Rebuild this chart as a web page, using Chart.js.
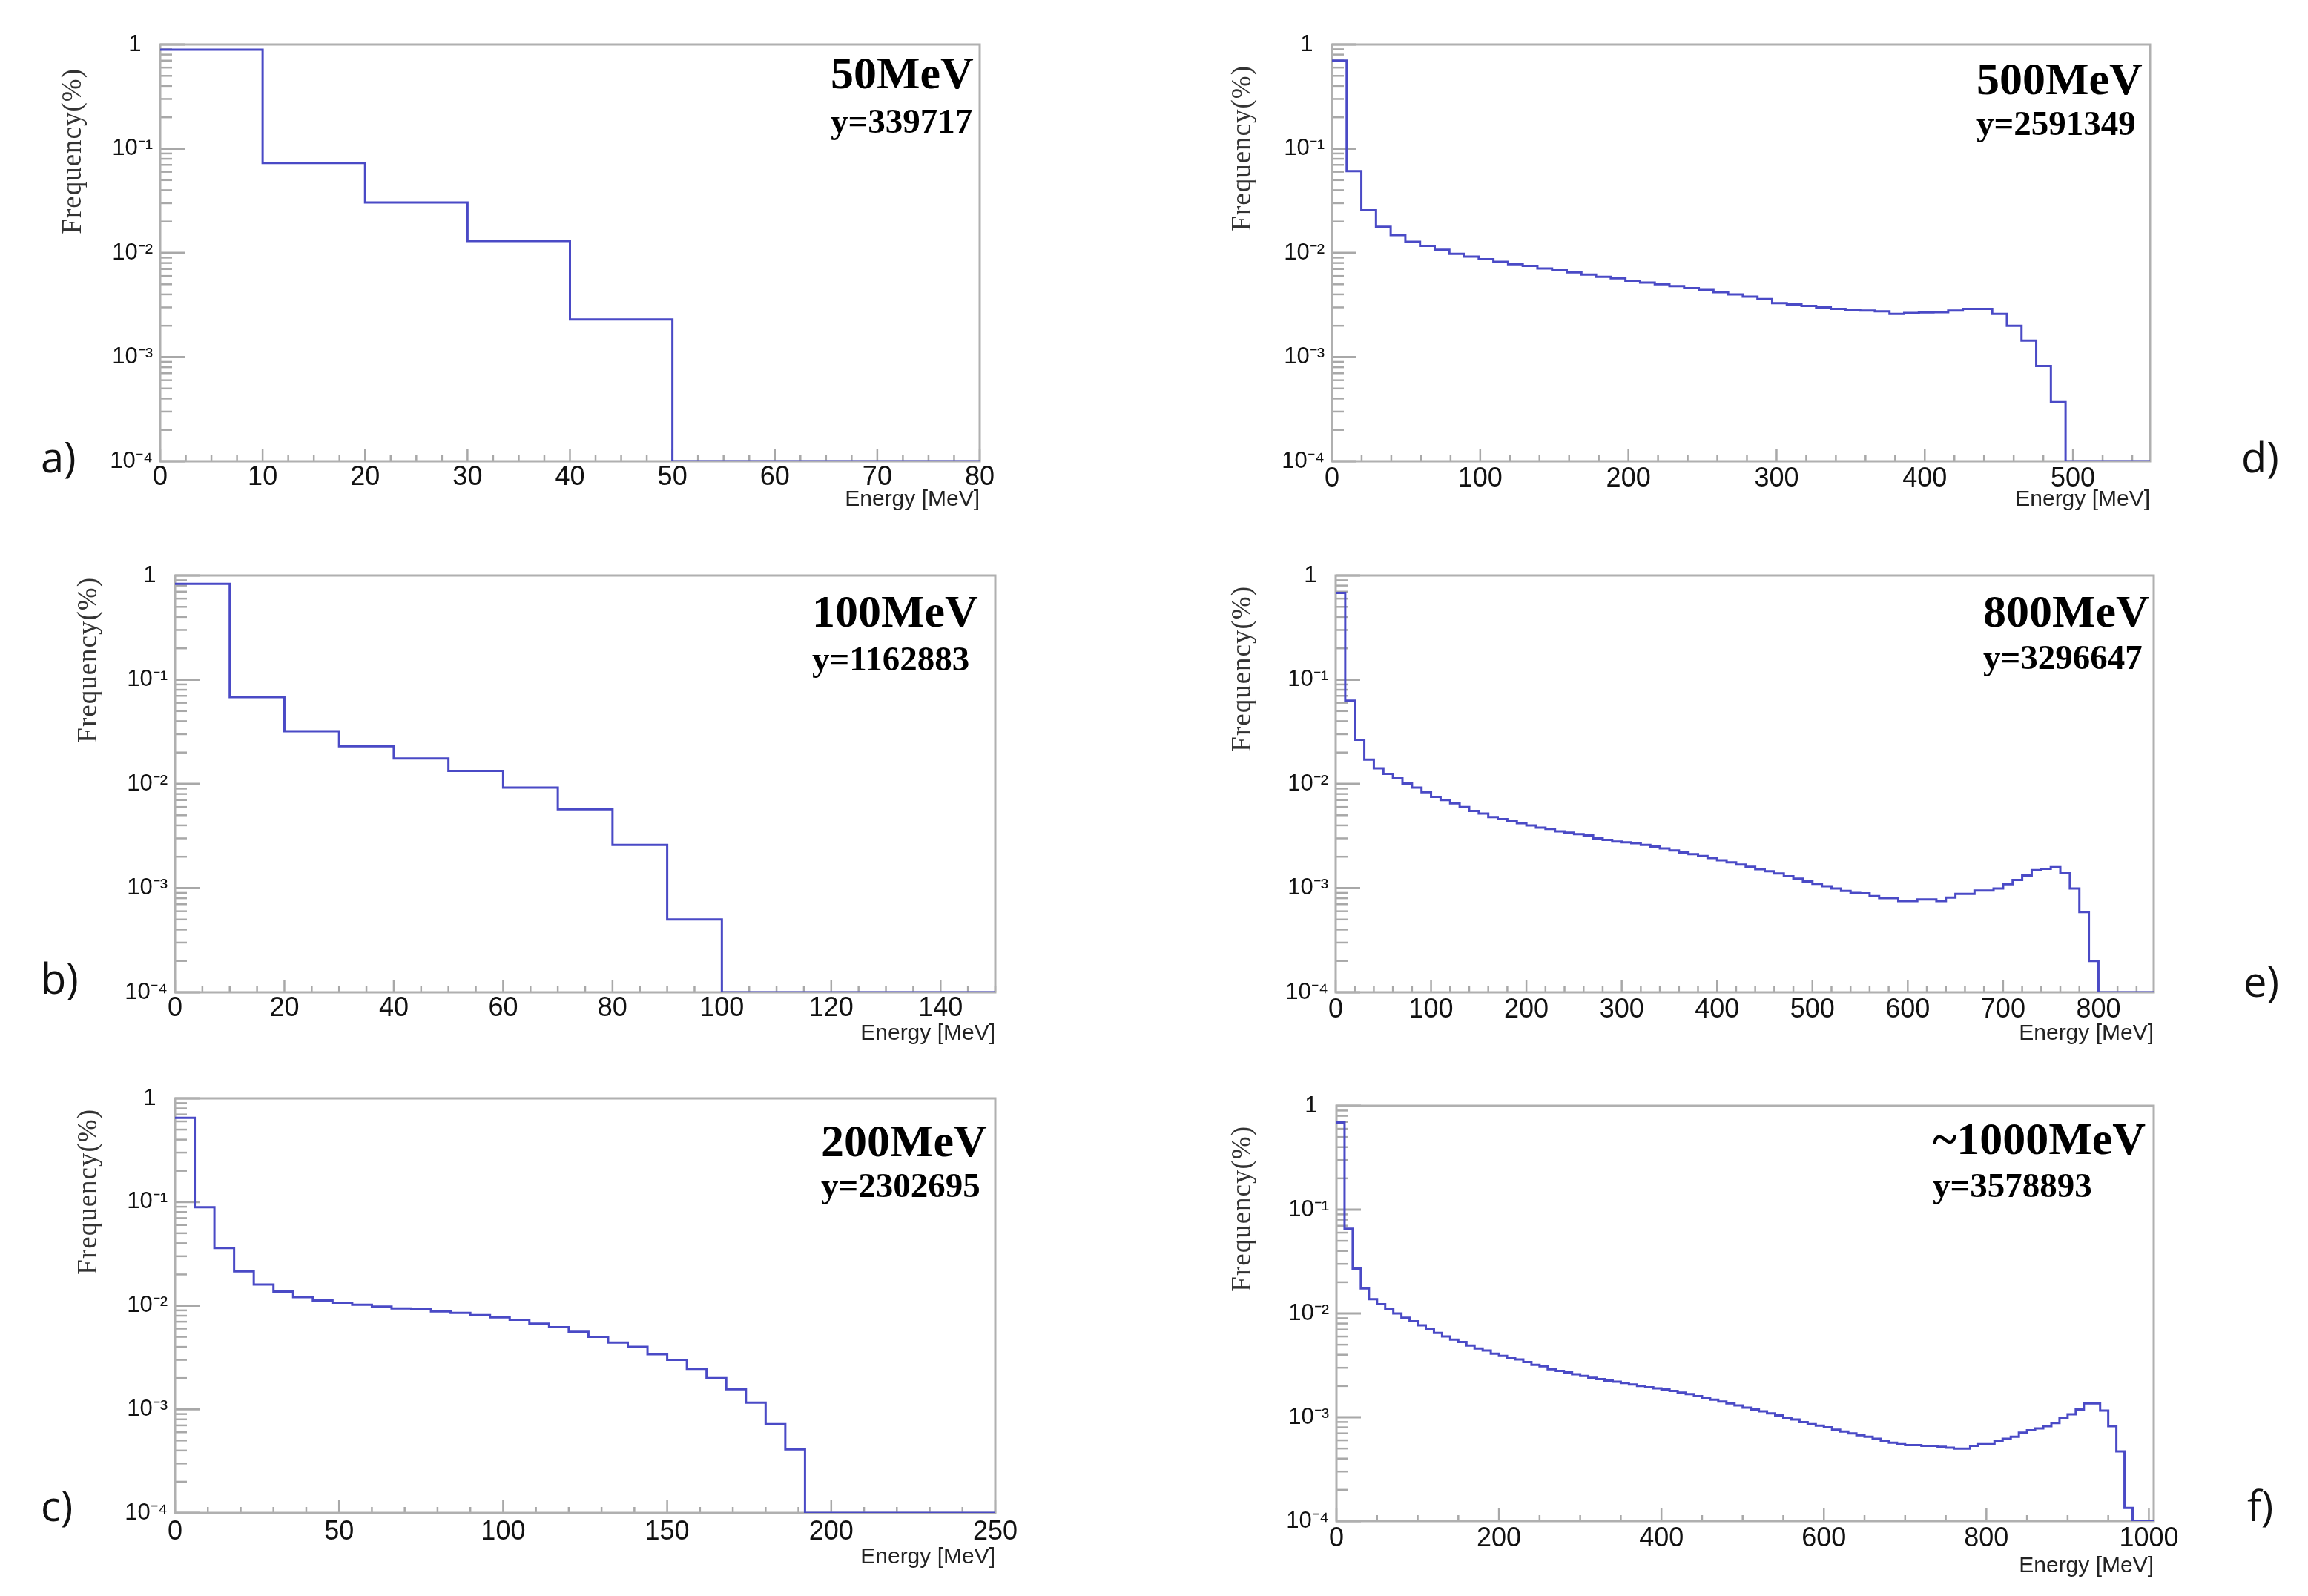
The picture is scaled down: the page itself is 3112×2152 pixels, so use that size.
<!DOCTYPE html>
<html><head><meta charset="utf-8">
<script src="https://cdn.jsdelivr.net/npm/chart.js@4.4.1/dist/chart.umd.min.js"></script>
<style>
html,body{margin:0;padding:0;background:#fff;}
#page{position:relative;width:3112px;height:2152px;overflow:hidden;background:#fff;}
canvas{position:absolute;}
.t{position:absolute;line-height:0;white-space:nowrap;}
.en{font-family:"Liberation Serif","Times New Roman",serif;font-weight:bold;color:#000;font-size:62px;}
.yl{font-family:"Liberation Serif","Times New Roman",serif;font-weight:bold;color:#000;font-size:47px;}
.lab{font-family:"Open Sans","Liberation Sans",sans-serif;color:#111;font-size:56px;}
.ytitle{position:absolute;line-height:0;white-space:nowrap;font-family:"Liberation Serif",serif;color:#333;font-size:37px;letter-spacing:1px;transform-origin:0 0;transform:rotate(-90deg);text-align:right;width:400px;}
.xtitle{position:absolute;line-height:0;white-space:nowrap;font-family:"Liberation Sans",Arial,sans-serif;color:#222;font-size:30px;text-align:right;width:400px;}
</style></head>
<body><div id="page"></div>
<script>
// ---------------- DATA ----------------
const yTickValues = [1e-4, 1e-3, 1e-2, 1e-1, 1];
const yTickLabels = ['10\u207B\u2074', '10\u207B\u00B3', '10\u207B\u00B2', '10\u207B\u00B9', '1\u2002'];

const xTicksA = [0, 10, 20, 30, 40, 50, 60, 70, 80];
const xTicksB = [0, 20, 40, 60, 80, 100, 120, 140];
const xTicksC = [0, 50, 100, 150, 200, 250];
const xTicksD = [0, 100, 200, 300, 400, 500];
const xTicksE = [0, 100, 200, 300, 400, 500, 600, 700, 800];
const xTicksF = [0, 200, 400, 600, 800, 1000];

const binWidthA = 10;
const valuesA = [0.89, 0.073, 0.0305, 0.013, 0.0023];

const binWidthB = 10;
const valuesB = [0.83, 0.068, 0.032, 0.023, 0.0175, 0.0133, 0.0092, 0.0057, 0.0026, 0.0005];

const binWidthC = 6;
const valuesC = [0.65, 0.089, 0.036, 0.0214, 0.016, 0.0137, 0.0121, 0.0112, 0.0107, 0.0102,
  0.0098, 0.0094, 0.0092, 0.0088, 0.0085, 0.0081, 0.0077, 0.0073, 0.0067, 0.0062,
  0.0056, 0.0050, 0.0044, 0.0040, 0.0034, 0.0030, 0.00245, 0.0020, 0.00156, 0.00116,
  0.00072, 0.00041];

const binWidthD = 9.9;
const valuesD = [0.70, 0.061, 0.0257, 0.0178, 0.0148, 0.0128, 0.0117, 0.0107, 0.0098, 0.0092,
  0.0087, 0.0082, 0.0078, 0.0075, 0.0071, 0.0068, 0.0065, 0.0062, 0.0059, 0.0057,
  0.0054, 0.0052, 0.0050, 0.0048, 0.0046, 0.0044, 0.0042, 0.0040, 0.0038, 0.0036,
  0.0033, 0.0032, 0.0031, 0.0030, 0.0029, 0.00285, 0.0028, 0.00275, 0.0026, 0.00265,
  0.00268, 0.0027, 0.0028, 0.0029, 0.0029, 0.0026, 0.0020, 0.00144, 0.00082, 0.00037];

const binWidthE = 10;
const valuesE = [0.68, 0.063, 0.0265, 0.0171, 0.0141, 0.0125, 0.0113, 0.0101, 0.0092, 0.0083,
  0.0075, 0.0070, 0.0065, 0.0060, 0.0055, 0.0052, 0.0048, 0.0046, 0.0044, 0.0042,
  0.0040, 0.0038, 0.0037, 0.0035, 0.0034, 0.0033, 0.0032, 0.0030, 0.0029, 0.0028,
  0.00275, 0.0027, 0.0026, 0.0025, 0.0024, 0.0023, 0.0022, 0.00212, 0.00203, 0.00194,
  0.00185, 0.00177, 0.00168, 0.0016, 0.00152, 0.00145, 0.00138, 0.0013, 0.00123, 0.00116,
  0.0011, 0.00104, 0.00099, 0.00094, 0.0009, 0.00089, 0.00084, 0.0008, 0.0008, 0.00075,
  0.00075, 0.00078, 0.00078, 0.00075, 0.00081, 0.00088, 0.00088, 0.00095, 0.00095, 0.00099,
  0.00109, 0.0012, 0.00132, 0.00149, 0.00153, 0.00159, 0.00139, 0.00099, 0.00059, 0.0002];

const binWidthF = 10;
const valuesF = [0.69, 0.0655, 0.0271, 0.0174, 0.0137, 0.0123, 0.011, 0.010, 0.0091, 0.0084,
  0.0077, 0.0071, 0.0065, 0.0060, 0.0056, 0.0053, 0.0049, 0.0046, 0.0044, 0.0041,
  0.0039, 0.0037, 0.0036, 0.0034, 0.0032, 0.0031, 0.0029, 0.0028, 0.0027, 0.0026,
  0.0025, 0.00240, 0.00233, 0.00226, 0.00220, 0.00214, 0.00207, 0.00200, 0.00195, 0.00190,
  0.00185, 0.00179, 0.00173, 0.00167, 0.00160, 0.00154, 0.00148, 0.00142, 0.00136, 0.00130,
  0.00124, 0.00119, 0.00114, 0.00109, 0.00104, 0.00099, 0.00095, 0.00090, 0.00086, 0.00083,
  0.00080, 0.00076, 0.00073, 0.00070, 0.00067, 0.00065, 0.00062, 0.00059, 0.00057, 0.00055,
  0.00054, 0.00054, 0.00053, 0.00053, 0.00052, 0.00051, 0.0005, 0.0005, 0.00053, 0.00055,
  0.00055, 0.00059, 0.00062, 0.00065, 0.00071, 0.00075, 0.00078, 0.00082, 0.00088, 0.00098,
  0.00107, 0.00119, 0.00136, 0.00136, 0.00116, 0.00082, 0.00047, 0.000134];

const energyLabels = ['50MeV', '100MeV', '200MeV', '500MeV', '800MeV', '~1000MeV'];
const yieldLabels = ['y=339717', 'y=1162883', 'y=2302695', 'y=2591349', 'y=3296647', 'y=3578893'];
const panelLetters = ['a)', 'b)', 'c)', 'd)', 'e)', 'f)'];
const xAxisTitle = 'Energy [MeV]';
const yAxisTitle = 'Frequency(%)';

// ---------------- LAYOUT / STYLE ----------------
const panels = [
  {values: valuesA, bw: binWidthA, xt: xTicksA, xMax: 80,   minor: 2.5, L: 216,  R: 1321, T: 60,   B: 622,
   tx: 1120, eY: 98, yY: 163, labX: 55, labY: 615, ytX: 97, ytTop: 92, xtY: 672, lp: -8},
  {values: valuesB, bw: binWidthB, xt: xTicksB, xMax: 150,  minor: 5,   L: 236,  R: 1342, T: 776,  B: 1338,
   tx: 1095, eY: 824, yY: 888, labX: 55, labY: 1318, ytX: 118, ytTop: 778, xtY: 1392, lp: -8},
  {values: valuesC, bw: binWidthC, xt: xTicksC, xMax: 250,  minor: 10,  L: 236,  R: 1342, T: 1481, B: 2040,
   tx: 1107, eY: 1538, yY: 1598, labX: 55, labY: 2029, ytX: 118, ytTop: 1495, xtY: 2098, lp: -4},
  {values: valuesD, bw: binWidthD, xt: xTicksD, xMax: 552,  minor: 20,  L: 1796, R: 2899, T: 60,   B: 622,
   tx: 2665, eY: 106, yY: 166, labX: 3022, labY: 615, ytX: 1674, ytTop: 88, xtY: 672, lp: -6},
  {values: valuesE, bw: binWidthE, xt: xTicksE, xMax: 858,  minor: 20,  L: 1801, R: 2904, T: 776,  B: 1338,
   tx: 2674, eY: 824, yY: 886, labX: 3025, labY: 1322, ytX: 1674, ytTop: 790, xtY: 1392, lp: -6},
  {values: valuesF, bw: binWidthF, xt: xTicksF, xMax: 1006, minor: 50,  L: 1802, R: 2904, T: 1491, B: 2051,
   tx: 2606, eY: 1535, yY: 1598, labX: 3030, labY: 2029, ytX: 1674, ytTop: 1518, xtY: 2110, lp: -6}
];

const LINE_COLOR = '#4a4ac6';
const TICK_COLOR = '#a8a8a8';
const FRAME_COLOR = '#b0b0b0';
const LW = 130, TP = 30, RP = 70, BH = 70;

const rootFrame = {
  id: 'rootFrame',
  beforeDatasetsDraw(chart, args, o) {
    const {ctx, chartArea: a, scales: {x, y}} = chart;
    ctx.save();
    ctx.strokeStyle = TICK_COLOR;
    ctx.lineCap = 'butt';
    const seg = (x1, y1, x2, y2, w) => { ctx.lineWidth = w; ctx.beginPath(); ctx.moveTo(x1, y1); ctx.lineTo(x2, y2); ctx.stroke(); };
    for (let e = -4; e <= 0; e++) {
      for (let m = 1; m <= 9; m++) {
        const v = m * Math.pow(10, e);
        if (v > 1.0000001) break;
        const py = y.getPixelForValue(v);
        if (m === 1) seg(a.left, py, a.left + 33, py, 3);
        else seg(a.left, py, a.left + 16, py, 2.5);
      }
    }
    const majors = o.majors;
    const n = Math.round((x.max - x.min) / o.minor);
    for (let i = 0; i <= n; i++) {
      const v = x.min + i * o.minor;
      if (v > x.max + 1e-9) break;
      const px = x.getPixelForValue(v);
      const isMajor = majors.some(m => Math.abs(m - v) < 1e-6);
      seg(px, a.bottom, px, a.bottom - (isMajor ? 17 : 8), 2.5);
    }
    ctx.strokeStyle = FRAME_COLOR;
    ctx.lineWidth = 3;
    ctx.strokeRect(a.left, a.top, a.right - a.left, a.bottom - a.top);
    ctx.restore();
  }
};

function histPoints(values, width, xMax, floor) {
  const pts = values.map((v, i) => ({x: i * width, y: v}));
  pts.push({x: values.length * width, y: floor});
  pts.push({x: xMax, y: floor});
  return pts;
}

const page = document.getElementById('page');
function addText(cls, txt, left, top) {
  const d = document.createElement('div');
  d.className = cls; d.textContent = txt;
  d.style.left = left + 'px'; d.style.top = top + 'px';
  page.appendChild(d);
  return d;
}

panels.forEach((p, k) => {
  const cw = (p.R - p.L) + LW + RP, chh = (p.B - p.T) + TP + BH;
  const cv = document.createElement('canvas');
  cv.width = cw; cv.height = chh;
  cv.style.width = cw + 'px'; cv.style.height = chh + 'px';
  cv.style.left = (p.L - LW) + 'px'; cv.style.top = (p.T - TP) + 'px';
  page.appendChild(cv);

  new Chart(cv.getContext('2d'), {
    type: 'line',
    data: {datasets: [{
      data: histPoints(p.values, p.bw, p.xMax, yTickValues[0]),
      stepped: 'before', borderColor: LINE_COLOR, borderWidth: 3,
      pointRadius: 0, fill: false, tension: 0
    }]},
    options: {
      responsive: false, animation: false, devicePixelRatio: 1,
      layout: {padding: {left: 0, top: TP, right: RP, bottom: 0}},
      plugins: {legend: {display: false}, tooltip: {enabled: false}, rootFrame: {majors: p.xt, minor: p.minor}},
      scales: {
        x: {
          type: 'linear', min: 0, max: p.xMax,
          grid: {display: false}, border: {display: false},
          afterBuildTicks: s => { s.ticks = p.xt.map(v => ({value: v})); },
          afterFit: s => { s.height = BH; },
          ticks: {autoSkip: false, maxRotation: 0, padding: p.lp, color: '#111',
            font: {family: "'Liberation Sans', Arial, sans-serif", size: 36},
            callback: v => String(v)}
        },
        y: {
          type: 'logarithmic', min: yTickValues[0], max: yTickValues[yTickValues.length - 1],
          grid: {display: false}, border: {display: false},
          afterBuildTicks: s => { s.ticks = yTickValues.map(v => ({value: v})); },
          afterFit: s => { s.width = LW; },
          ticks: {autoSkip: false, padding: 2, color: '#111',
            font: {family: "'Liberation Sans', Arial, sans-serif", size: 31},
            callback: (v, i) => yTickLabels[i]}
        }
      }
    },
    plugins: [rootFrame]
  });

  addText('t en', energyLabels[k], p.tx, p.eY);
  addText('t yl', yieldLabels[k], p.tx, p.yY);
  addText('t lab', panelLetters[k], p.labX, p.labY);
  addText('ytitle', yAxisTitle, p.ytX, p.ytTop + 400);
  addText('xtitle', xAxisTitle, p.R - 400, p.xtY);
});
</script>
</body></html>
